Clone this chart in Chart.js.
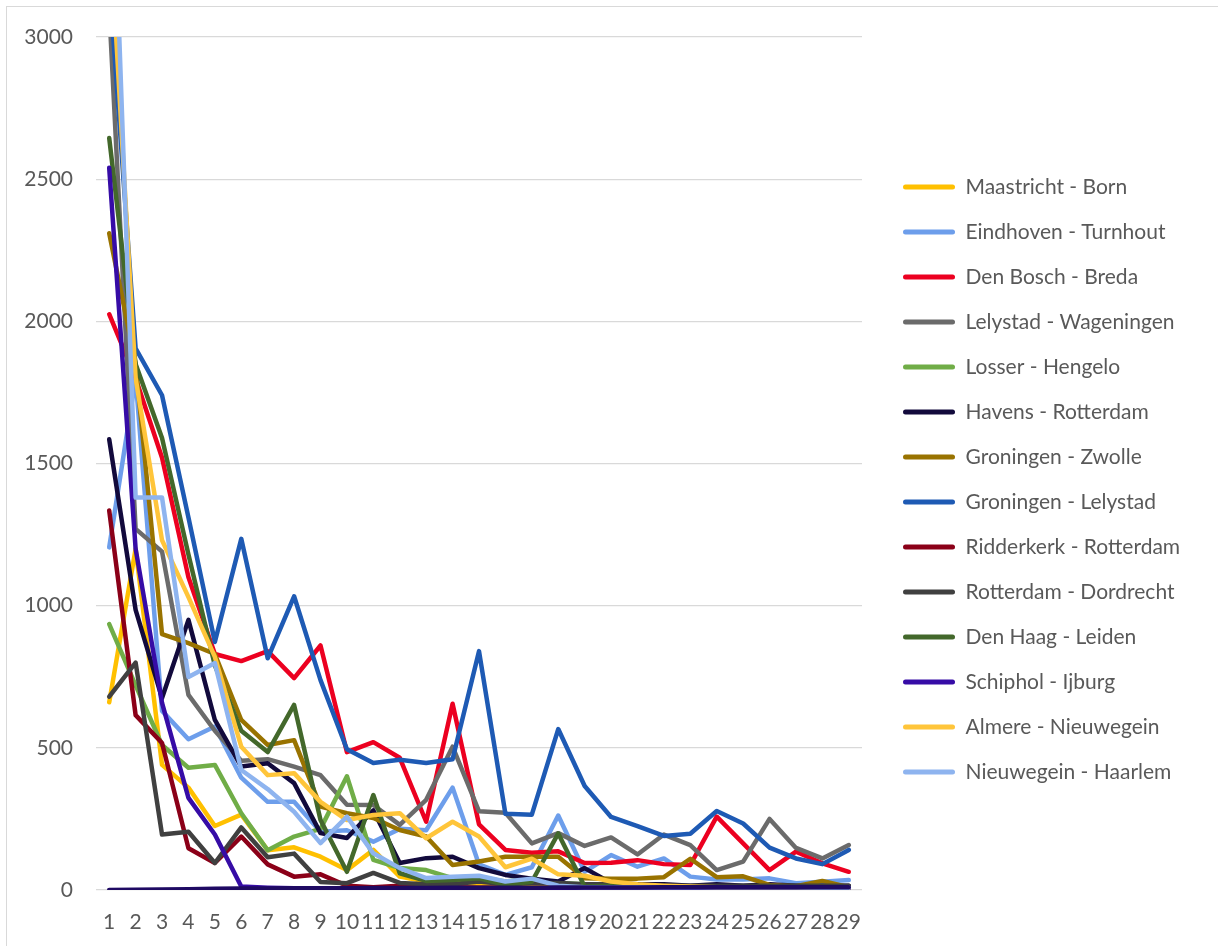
<!DOCTYPE html>
<html>
<head>
<meta charset="utf-8">
<script src="https://cdn.jsdelivr.net/npm/chart.js@4/dist/chart.umd.min.js"></script>
<style>
  html, body { margin: 0; padding: 0; background: #fff; overflow: hidden; }
  #frame { position: absolute; left: 6px; top: 6px; width: 1300px; height: 1000px; border: 1px solid #D9D9D9; }
  #chart { position: absolute; left: 0; top: 0; }
</style>
</head>
<body>
<div id="frame"></div>
<canvas id="chart" width="1218" height="946"></canvas>
<script>
const labels = ["1", "2", "3", "4", "5", "6", "7", "8", "9", "10", "11", "12", "13", "14", "15",
    "16", "17", "18", "19", "20", "21", "22", "23", "24", "25", "26", "27", "28", "29"];

const maastrichtBorn = [660, 1200, 440, 360, 225, 265, 140, 150, 117, 70, 141, 47, 30, 25, 20, 15, 15, 15, 12, 10, 10, 10, 10, 8, 8, 8, 6, 6, 5];
const eindhovenTurnhout = [1205, 1800, 630, 530, 575, 395, 310, 310, 205, 210, 170, 215, 210, 360, 90, 53, 80, 262, 64, 123, 82, 111, 47, 37, 37, 41, 24, 29, 35];
const denBoschBreda = [2025, 1800, 1520, 1100, 830, 805, 840, 745, 860, 485, 520, 465, 240, 655, 231, 141, 131, 136, 95, 96, 105, 91, 88, 258, 164, 70, 135, 94, 64];
const lelystadWageningen = [3100, 1270, 1190, 686, 560, 455, 460, 434, 404, 300, 299, 229, 317, 504, 277, 272, 164, 200, 155, 185, 125, 195, 158, 70, 100, 250, 148, 111, 158];
const losserHengelo = [935, 720, 510, 430, 440, 270, 140, 188, 215, 400, 106, 77, 70, 42, 45, 30, 40, 25, 20, 20, 15, 15, 10, 10, 10, 15, 10, 10, 10];
const havensRotterdam = [1585, 985, 675, 950, 598, 434, 446, 376, 200, 183, 280, 95, 112, 117, 77, 53, 40, 30, 77, 25, 20, 20, 15, 20, 15, 20, 15, 15, 15];
const groningenZwolle = [2310, 1850, 900, 868, 830, 598, 510, 527, 293, 270, 253, 211, 188, 88, 100, 117, 117, 117, 41, 40, 40, 45, 110, 45, 48, 18, 13, 32, 10];
const groningenLelystad = [3200, 1905, 1740, 1310, 872, 1235, 815, 1033, 738, 495, 447, 458, 447, 460, 840, 268, 265, 566, 366, 257, 225, 190, 198, 278, 234, 149, 111, 91, 141];
const ridderkerkRotterdam = [1335, 615, 517, 147, 95, 188, 90, 47, 55, 15, 10, 15, 10, 10, 8, 8, 5, 5, 5, 5, 5, 5, 5, 5, 5, 5, 5, 5, 5];
const rotterdamDordrecht = [680, 800, 195, 205, 95, 220, 115, 128, 28, 24, 60, 25, 20, 20, 30, 20, 25, 25, 20, 20, 15, 15, 15, 15, 15, 15, 15, 15, 15];
const denHaagLeiden = [2645, 1850, 1590, 1180, 790, 560, 485, 651, 246, 64, 334, 59, 32, 35, 41, 18, 29, 199, 12, 15, 12, 12, 10, 10, 10, 10, 10, 10, 10];
const schipholIjburg = [2540, 1200, 658, 324, 195, 12, 8, 6, 6, 6, 5, 5, 5, 5, 5, 5, 5, 5, 5, 5, 5, 5, 5, 5, 5, 5, 5, 5, 5];
const almereNieuwegein = [3430, 1800, 1230, 1030, 820, 504, 404, 411, 310, 246, 264, 270, 182, 240, 188, 80, 110, 55, 50, 30, 20, 15, 12, 10, 10, 10, 10, 8, 8];
const nieuwegeinHaarlem = [4000, 1380, 1380, 749, 798, 422, 355, 275, 165, 258, 129, 77, 42, 47, 50, 30, 40, 15, 10, 10, 10, 10, 10, 10, 10, 10, 10, 8, 8];
// series without a legend entry, lying on the zero line
const unnamedSeries = [0, 1, 2, 3, 4, 5, 5, 6, 6, 6, 7, 7, 7, 8, 8, 8, 8, 9, 9, 9, 9, 10, 10, 10, 10, 10, 10, 10, 10];

const series = [
    ["Maastricht - Born", maastrichtBorn, "#FFC000"],
    ["Eindhoven - Turnhout", eindhovenTurnhout, "#6D9EEB"],
    ["Den Bosch - Breda", denBoschBreda, "#EC0020"],
    ["Lelystad - Wageningen", lelystadWageningen, "#6B6B6B"],
    ["Losser - Hengelo", losserHengelo, "#70AD47"],
    ["Havens - Rotterdam", havensRotterdam, "#120A3C"],
    ["Groningen - Zwolle", groningenZwolle, "#997300"],
    ["Groningen - Lelystad", groningenLelystad, "#1E5AB4"],
    ["Ridderkerk - Rotterdam", ridderkerkRotterdam, "#8B0018"],
    ["Rotterdam - Dordrecht", rotterdamDordrecht, "#404040"],
    ["Den Haag - Leiden", denHaagLeiden, "#43682B"],
    ["Schiphol - Ijburg", schipholIjburg, "#360CA6"],
    ["Almere - Nieuwegein", almereNieuwegein, "#FFC53A"],
    ["Nieuwegein - Haarlem", nieuwegeinHaarlem, "#8EB4EF"],
    ["", unnamedSeries, "#1F0A63"]
];

const datasets = series.map(([name, values, color], i) => ({
    label: name,
    data: values,
    borderColor: color,
    backgroundColor: color,
    borderWidth: 4.5,
    borderCapStyle: "round",
    borderJoinStyle: "round",
    pointRadius: 0,
    tension: 0,
    clip: 0,
    // later series are drawn on top, like the original
    order: series.length - i
}));

const textColor = "#595959";
const font = { family: "Lato", size: 21 };

// empty axes only used to leave room around the plot
const spacer = (size, prop) => ({
    position: prop === "width" ? "right" : "top",
    grid: { display: false },
    border: { display: false },
    ticks: { display: false },
    afterFit(scale) { scale[prop] = size; }
});

new Chart(document.getElementById("chart"), {
    type: "line",
    data: { labels: labels, datasets: datasets },
    options: {
        responsive: false,
        animation: false,
        devicePixelRatio: 1,
        layout: { padding: { left: 24, top: 13, right: 39, bottom: 0 } },
        scales: {
            x: {
                offset: true,
                grid: { display: false, drawTicks: false },
                border: { display: false },
                ticks: { color: textColor, font: font, padding: 20, maxRotation: 0, autoSkip: false },
                afterFit(scale) { scale.height = 56; }
            },
            y: {
                min: 0,
                max: 3000,
                grid: { color: "#D9D9D9", lineWidth: 1.3, drawTicks: false },
                border: { display: false },
                ticks: {
                    stepSize: 500,
                    color: textColor,
                    font: font,
                    padding: 23,
                    callback: (v) => String(v)
                },
                afterFit(scale) { scale.width = 72; }
            },
            spacerRight: spacer(17, "width"),
            spacerTop: Object.assign({ type: "category" }, spacer(24, "height"))
        },
        plugins: {
            tooltip: { enabled: false },
            legend: {
                position: "right",
                maxWidth: 300,
                labels: {
                    color: textColor,
                    font: font,
                    boxWidth: 52,
                    boxHeight: 5,
                    padding: 24,
                    useBorderRadius: true,
                    borderRadius: 2.5,
                    filter: (item) => item.text !== "",
                    sort: (a, b) => a.datasetIndex - b.datasetIndex,
                    generateLabels(chart) {
                        const items = Chart.defaults.plugins.legend.labels.generateLabels(chart);
                        items.forEach(it => { it.lineWidth = 0; });
                        return items;
                    }
                }
            }
        }
    }
});
</script>
</body>
</html>
